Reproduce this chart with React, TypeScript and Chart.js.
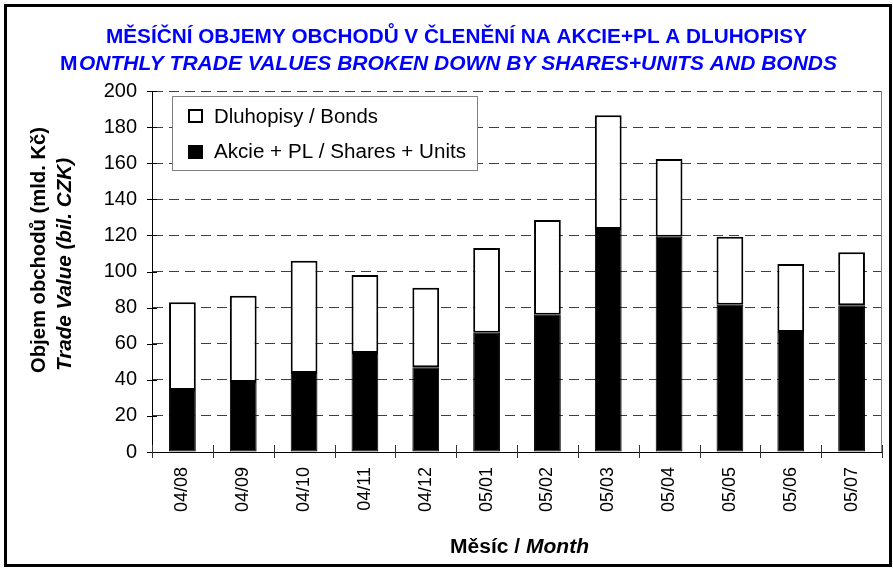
import React, { useEffect, useRef } from 'react';
import { Chart, registerables } from 'chart.js';

Chart.register(...registerables);

// ---- data ----
const months = ['04/08', '04/09', '04/10', '04/11', '04/12', '05/01', '05/02', '05/03', '05/04', '05/05', '05/06', '05/07'];
const sharesUnits = [34.3, 38.8, 43.8, 54.8, 47.0, 66.0, 76.0, 123.5, 119.3, 81.6, 66.5, 81.3];
const bonds = [48.7, 47.7, 62.2, 43.2, 44.0, 47.0, 52.5, 63.0, 43.0, 37.7, 37.7, 29.3];
const yMin = 0;
const yMax = 200;
const yStep = 20;

const titleLine1 = 'MĚSÍČNÍ OBJEMY OBCHODŮ V ČLENĚNÍ NA AKCIE+PL A DLUHOPISY';
const titleLine2Head = 'M';
const titleLine2Rest = 'ONTHLY TRADE VALUES BROKEN DOWN BY SHARES+UNITS AND BONDS';
const yTitleLine1 = 'Objem obchodů (mld. Kč)';
const yTitleLine2 = 'Trade Value (bil. CZK)';
const xTitleCz = 'Měsíc / ';
const xTitleEn = 'Month';
const bondsLabel = 'Dluhopisy / Bonds';
const sharesLabel = 'Akcie + PL / Shares + Units';

const FF = "'Liberation Sans', Arial, Helvetica, sans-serif";

function fitText(ctx: CanvasRenderingContext2D, text: string, x0: number, x1: number, baseline: number, font: string) {
  ctx.save();
  ctx.font = font;
  const w = ctx.measureText(text).width;
  const s = (x1 - x0) / w;
  ctx.translate(x0, baseline);
  ctx.scale(s, 1);
  ctx.textAlign = 'left';
  ctx.textBaseline = 'alphabetic';
  ctx.fillText(text, 0, 0);
  ctx.restore();
}

function scaledText(ctx: CanvasRenderingContext2D, text: string, x: number, baseline: number, font: string, sx: number) {
  ctx.save();
  ctx.font = font;
  ctx.translate(x, baseline);
  ctx.scale(sx, 1);
  ctx.textAlign = 'left';
  ctx.textBaseline = 'alphabetic';
  ctx.fillText(text, 0, 0);
  const w = ctx.measureText(text).width * sx;
  ctx.restore();
  return w;
}

const decorPlugin = {
  id: 'decor',
  beforeDraw(chart: any) {
    const ctx = chart.ctx as CanvasRenderingContext2D;
    ctx.save();
    ctx.fillStyle = '#ffffff';
    ctx.fillRect(0, 0, chart.width, chart.height);
    ctx.restore();
  },
  afterDraw(chart: any) {
    const ctx = chart.ctx as CanvasRenderingContext2D;
    const ca = chart.chartArea;
    const xs = chart.scales.x;
    const ys = chart.scales.y;
    ctx.save();

    // right border of plot
    ctx.strokeStyle = '#808080';
    ctx.lineWidth = 1;
    ctx.beginPath();
    ctx.moveTo(Math.round(ca.right) - 0.5, ca.top);
    ctx.lineTo(Math.round(ca.right) - 0.5, ca.bottom);
    ctx.stroke();

    // y tick marks (crossing axis)
    ctx.strokeStyle = '#000000';
    for (let v = yMin; v <= yMax; v += yStep) {
      const py = Math.round(ys.getPixelForValue(v)) + 0.5;
      ctx.beginPath();
      ctx.moveTo(ca.left - 5, py);
      ctx.lineTo(ca.left + 5, py);
      ctx.stroke();
    }
    // x tick marks at category boundaries
    const bounds: number[] = [xs.left];
    for (let i = 1; i < months.length; i++) {
      bounds.push((xs.getPixelForValue(i - 1) + xs.getPixelForValue(i)) / 2);
    }
    bounds.push(xs.right);
    ctx.strokeStyle = '#333333';
    for (const b of bounds) {
      const px = Math.round(b) + 0.5;
      ctx.beginPath();
      ctx.moveTo(px, ca.bottom - 7);
      ctx.lineTo(px, ca.bottom + 6);
      ctx.stroke();
    }

    // legend
    ctx.fillStyle = '#ffffff';
    ctx.fillRect(172.5, 96.5, 305, 74);
    ctx.strokeStyle = '#808080';
    ctx.lineWidth = 1;
    ctx.strokeRect(172.5, 96.5, 305, 74);
    ctx.fillStyle = '#ffffff';
    ctx.strokeStyle = '#000000';
    ctx.lineWidth = 2;
    ctx.fillRect(189, 110, 13, 12);
    ctx.strokeRect(189, 110, 13, 12);
    ctx.fillStyle = '#000000';
    ctx.fillRect(188, 145, 15, 14);
    ctx.fillStyle = '#000000';
    fitText(ctx, bondsLabel, 214, 378, 123, `19.5px ${FF}`);
    fitText(ctx, sharesLabel, 214, 466, 158, `19.5px ${FF}`);

    // title
    ctx.fillStyle = '#0000ff';
    fitText(ctx, titleLine1, 106, 807, 43, `bold 20px ${FF}`);
    scaledText(ctx, titleLine2Head, 60, 70, `bold 20px ${FF}`, 1.05);
    fitText(ctx, titleLine2Rest, 79, 837, 70, `italic bold 20px ${FF}`);

    // x axis title
    ctx.fillStyle = '#000000';
    ctx.save();
    ctx.font = `bold 20px ${FF}`;
    const w1 = ctx.measureText(xTitleCz).width;
    ctx.font = `italic bold 20px ${FF}`;
    const w2 = ctx.measureText(xTitleEn).width;
    ctx.restore();
    const xs0 = 450, xs1 = 589;
    const sx = (xs1 - xs0) / (w1 + w2);
    scaledText(ctx, xTitleCz, xs0, 553, `bold 20px ${FF}`, sx);
    scaledText(ctx, xTitleEn, xs0 + w1 * sx, 553, `italic bold 20px ${FF}`, sx);

    // y axis title (rotated)
    ctx.save();
    ctx.translate(45, 373);
    ctx.rotate(-Math.PI / 2);
    fitText(ctx, yTitleLine1, 0, 246, 0, `bold 20.5px ${FF}`);
    ctx.restore();
    ctx.save();
    ctx.translate(71, 371);
    ctx.rotate(-Math.PI / 2);
    fitText(ctx, yTitleLine2, 0, 213, 0, `italic bold 20.5px ${FF}`);
    ctx.restore();

    // outer frame
    ctx.strokeStyle = '#000000';
    ctx.lineWidth = 3;
    ctx.strokeRect(5.5, 5.5, 885, 560);

    ctx.restore();
  },
};

export default function App() {
  const canvasRef = useRef<HTMLCanvasElement | null>(null);

  useEffect(() => {
    const canvas = canvasRef.current;
    if (!canvas) return;
    const chart = new Chart(canvas, {
      type: 'bar',
      data: {
        labels: months,
        datasets: [
          {
            label: sharesLabel,
            data: sharesUnits,
            backgroundColor: '#000000',
            borderColor: '#000000',
            borderWidth: 1,
            borderSkipped: false,
            barPercentage: 0.44,
            categoryPercentage: 1,
          },
          {
            label: bondsLabel,
            data: bonds,
            backgroundColor: '#ffffff',
            borderColor: '#000000',
            borderWidth: 2,
            borderSkipped: false,
            barPercentage: 0.44,
            categoryPercentage: 1,
          },
        ],
      },
      options: {
        responsive: false,
        animation: false,
        devicePixelRatio: 1,
        layout: { padding: { top: 91, right: 11, left: 0, bottom: 0 } },
        plugins: {
          legend: { display: false },
          title: { display: false },
          tooltip: { enabled: false },
        },
        scales: {
          x: {
            stacked: true,
            grid: { display: false, drawTicks: false },
            border: { display: true, color: '#000000', width: 1 },
            ticks: {
              color: '#000000',
              font: { family: FF, size: 18 },
              minRotation: 90,
              maxRotation: 90,
              padding: 15,
              autoSkip: false,
            },
            afterFit: (s: any) => {
              s.height = 116;
            },
          },
          y: {
            stacked: true,
            min: yMin,
            max: yMax,
            ticks: {
              stepSize: yStep,
              color: '#000000',
              font: { family: FF, size: 20 },
              padding: 15,
            },
            grid: { color: '#404040', lineWidth: 1, drawTicks: false },
            border: { display: true, color: '#000000', width: 1, dash: [10, 6] },
            afterFit: (s: any) => {
              s.width = 152;
            },
          },
        },
      },
      plugins: [decorPlugin],
    });
    return () => chart.destroy();
  }, []);

  return (
    <div style={{ position: 'absolute', left: 0, top: 0, width: 893, height: 568, background: '#fff' }}>
      <canvas ref={canvasRef} width={893} height={568} style={{ display: 'block', width: 893, height: 568 }} />
    </div>
  );
}
